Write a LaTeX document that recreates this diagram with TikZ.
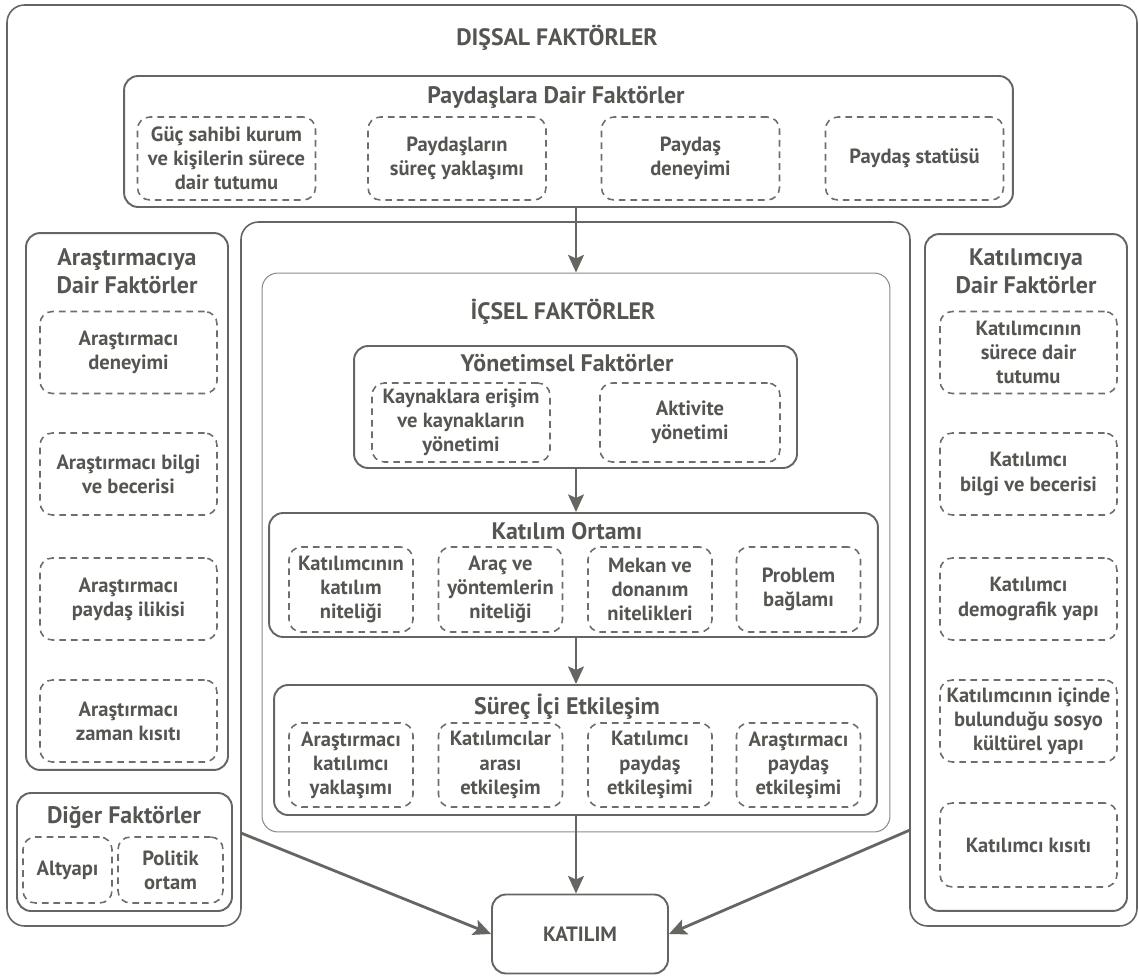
\documentclass[tikz,border=0pt]{standalone}
\usepackage{fontspec}
\setmainfont{PT Sans}
\usetikzlibrary{arrows.meta}
\definecolor{inkgray}{HTML}{555551}
\definecolor{linegray}{HTML}{656561}
\definecolor{dashgray}{HTML}{6E6E6A}

\begin{document}
\begin{tikzpicture}[x=0.02cm,y=-0.02cm]
\tikzstyle{every node}+=[inner sep=0pt, text=inkgray, font=\bfseries]
\tikzstyle{solidbox}=[draw=linegray, line width=1.1pt, rounded corners=8pt]
\tikzstyle{thinbox}=[draw=linegray!75, line width=0.6pt, rounded corners=9pt]
\tikzstyle{dashbox}=[draw=dashgray, line width=0.9pt, dash pattern=on 3.8pt off 2.8pt, rounded corners=7pt, align=center, font=\bfseries\fontsize{11.7}{13.7}\selectfont]
\tikzstyle{bigtitle}=[font=\bfseries\fontsize{13.5}{15}\selectfont]
\tikzstyle{subtitle}=[font=\bfseries\fontsize{13.6}{16}\selectfont, align=center]
\tikzstyle{flow}=[draw=linegray, line width=1.6pt, -{Stealth[length=10pt,width=9pt,inset=2pt]}]
\useasboundingbox (0,0) rectangle (1139,976);

\draw [linegray, line width=0.9pt, rounded corners=10pt] (7,5) -- (1137,5) -- (1137,926) -- (910,926) -- (910,222) -- (241,222) -- (241,926) -- (7,926) -- cycle;
\node [bigtitle] (dis) at (557,38) {DIŞSAL FAKTÖRLER};

\node [solidbox, minimum width=17.78cm, minimum height=2.62cm] (pay) at (568.5,141.5) {};
\node [subtitle] (payt) at (556,97) {Paydaşlara Dair Faktörler};
\node [dashbox, minimum width=3.56cm, minimum height=1.66cm] (pay1) at (226.5,158.5) {Güç sahibi kurum\\ve kişilerin sürece\\dair tutumu};
\node [dashbox, minimum width=3.56cm, minimum height=1.66cm] (pay2) at (457,158.5) {Paydaşların\\süreç yaklaşımı};
\node [dashbox, minimum width=3.56cm, minimum height=1.66cm] (pay3) at (690.5,158.5) {Paydaş\\deneyimi};
\node [dashbox, minimum width=3.56cm, minimum height=1.66cm] (pay4) at (914.5,158.5) {Paydaş statüsü};

\node [solidbox, minimum width=4.04cm, minimum height=10.74cm] (ara) at (127,501.5) {};
\node [subtitle] (arat) at (127,271) {Araştırmacıya\\Dair Faktörler};
\node [dashbox, minimum width=3.54cm, minimum height=1.64cm] (ara1) at (128.5,352.5) {Araştırmacı\\deneyimi};
\node [dashbox, minimum width=3.54cm, minimum height=1.64cm] (ara2) at (128.5,474) {Araştırmacı bilgi\\ve becerisi};
\node [dashbox, minimum width=3.54cm, minimum height=1.64cm] (ara3) at (128.5,599) {Araştırmacı\\paydaş ilikisi};
\node [dashbox, minimum width=3.54cm, minimum height=1.64cm] (ara4) at (128.5,721) {Araştırmacı\\zaman kısıtı};

\node [solidbox, minimum width=4.3cm, minimum height=2.36cm] (dig) at (124.5,852) {};
\node [subtitle] (digt) at (124,817) {Diğer Faktörler};
\node [dashbox, minimum width=1.78cm, minimum height=1.32cm] (dig1) at (67.5,870) {Altyapı};
\node [dashbox, minimum width=2.1cm, minimum height=1.32cm] (dig2) at (170.5,870) {Politik\\ortam};

\node [solidbox, minimum width=4.04cm, minimum height=13.54cm] (kt) at (1026,572.5) {};
\node [subtitle] (ktt) at (1026,271) {Katılımcıya\\Dair Faktörler};
\node [dashbox, minimum width=3.54cm, minimum height=1.64cm] (kt1) at (1028.5,352.5) {Katılımcının\\sürece dair\\tutumu};
\node [dashbox, minimum width=3.54cm, minimum height=1.64cm] (kt2) at (1028.5,474) {Katılımcı\\bilgi ve becerisi};
\node [dashbox, minimum width=3.54cm, minimum height=1.64cm] (kt3) at (1028.5,599) {Katılımcı\\demografik yapı};
\node [dashbox, minimum width=3.54cm, minimum height=1.64cm] (kt4) at (1028.5,721) {Katılımcının içinde\\bulunduğu sosyo\\kültürel yapı};
\node [dashbox, minimum width=3.54cm, minimum height=1.68cm] (kt5) at (1028.5,845) {Katılımcı kısıtı};

\node [thinbox, minimum width=12.56cm, minimum height=11.18cm] (ic) at (576,552.5) {};
\node [bigtitle] (ict) at (563,312) {İÇSEL FAKTÖRLER};

\node [solidbox, minimum width=8.86cm, minimum height=2.44cm] (yon) at (575.5,407) {};
\node [subtitle] (yont) at (567,363) {Yönetimsel Faktörler};
\node [dashbox, minimum width=3.56cm, minimum height=1.58cm] (yon1) at (461,422.5) {Kaynaklara erişim\\ve kaynakların\\yönetimi};
\node [dashbox, minimum width=3.6cm, minimum height=1.58cm] (yon2) at (690,422.5) {Aktivite\\yönetimi};

\node [solidbox, minimum width=12.18cm, minimum height=2.48cm] (ort) at (573.5,575) {};
\node [subtitle] (ortt) at (567,531) {Katılım Ortamı};
\node [dashbox, minimum width=2.48cm, minimum height=1.7cm] (ort1) at (351,589.5) {Katılımcının\\katılım\\niteliği};
\node [dashbox, minimum width=2.48cm, minimum height=1.7cm] (ort2) at (500.5,589.5) {Araç ve\\yöntemlerin\\niteliği};
\node [dashbox, minimum width=2.48cm, minimum height=1.7cm] (ort3) at (650,589.5) {Mekan ve\\donanım\\nitelikleri};
\node [dashbox, minimum width=2.48cm, minimum height=1.7cm] (ort4) at (798.5,589.5) {Problem\\bağlamı};

\node [solidbox, minimum width=12.06cm, minimum height=2.6cm] (sur) at (575.5,750) {};
\node [subtitle] (surt) at (567,707) {Süreç İçi Etkileşim};
\node [dashbox, minimum width=2.48cm, minimum height=1.68cm] (sur1) at (351,765) {Araştırmacı\\katılımcı\\yaklaşımı};
\node [dashbox, minimum width=2.48cm, minimum height=1.68cm] (sur2) at (500.5,765) {Katılımcılar\\arası\\etkileşim};
\node [dashbox, minimum width=2.48cm, minimum height=1.68cm] (sur3) at (650,765) {Katılımcı\\paydaş\\etkileşimi};
\node [dashbox, minimum width=2.48cm, minimum height=1.68cm] (sur4) at (798.5,765) {Araştırmacı\\paydaş\\etkileşimi};

\node [solidbox, minimum width=3.52cm, minimum height=1.58cm, font=\bfseries\fontsize{11.8}{14}\selectfont] (kat) at (580,934) {KATILIM};

\coordinate (dout) at (241,833);
\coordinate (kout) at (910,830);
\draw [flow] (ic.north |- pay.south) -- (ic.north);
\draw [flow] (yon.south -| ic.north) -- (ort.north -| ic.north);
\draw [flow] (ort.south -| ic.north) -- (sur.north -| ic.north);
\draw [flow] (sur.south -| ic.north) -- (kat.north -| ic.north);
\draw [flow] (dout) -- (kat.west);
\draw [flow] (kout) -- (kat.east);
\end{tikzpicture}
\end{document}
